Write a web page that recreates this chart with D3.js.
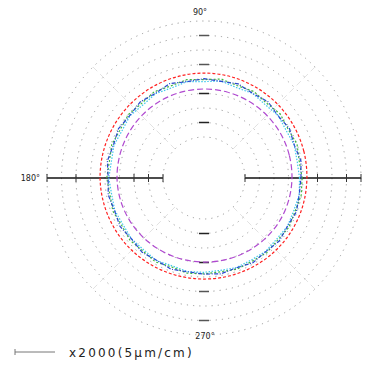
<!DOCTYPE html>
<html><head><meta charset="utf-8">
<script src="https://cdn.jsdelivr.net/npm/d3@7"></script>
<style>body{margin:0;background:#fff}svg{display:block}</style>
</head><body>
<svg id="c" width="366" height="371"></svg>
<script>
// ---- data ----
const gridLevels = [2,3,4,5,6,7,8,9,10];
const dashLevels = [3,5,7,9];
const leftTicks = [10,8,4,3,2];
const rightTicks = [2,7,9,10];
const angleLabels = [{t:"90°",a:90},{t:"180°",a:180},{t:"270°",a:270}];
const legendText = "x2000(5μm/cm)";
const anglesCoarse = [0,15,30,45,60,75,90,105,120,135,150,165,180,195,210,225,240,255,270,285,300,315,330,345];
const anglesFine = [0,10,20,30,40,50,60,70,80,90,100,110,120,130,140,150,160,170,180,190,200,210,220,230,240,250,260,270,280,290,300,310,320,330,340,350];
const redVals = [6.27,6.30,6.33,6.36,6.38,6.40,6.41,6.40,6.39,6.37,6.36,6.35,6.34,6.30,6.26,6.22,6.18,6.15,6.14,6.15,6.17,6.20,6.23,6.25];
const purpleVals = [5.24,5.26,5.28,5.29,5.30,5.31,5.31,5.30,5.28,5.25,5.22,5.19,5.17,5.13,5.08,5.03,4.99,4.97,4.97,5.00,5.05,5.11,5.17,5.21];
const blueVals = [5.86,5.96,5.80,5.98,5.84,6.04,5.90,6.08,5.94,6.02,5.92,6.10,5.90,6.02,5.86,5.98,5.82,5.94,5.78,5.88,5.74,5.86,5.70,5.84,5.72,5.86,5.74,5.80,5.88,5.76,5.92,5.80,5.94,5.82,5.96,5.84];
const greenVals = [5.94,5.84,6.00,5.88,6.04,5.90,6.06,5.94,6.10,5.96,6.06,5.92,6.04,5.88,5.98,5.84,5.94,5.80,5.88,5.76,5.86,5.72,5.84,5.74,5.86,5.70,5.84,5.78,5.74,5.86,5.80,5.90,5.82,5.94,5.86,5.98];
const cyanVals = [5.76,5.70,5.80,5.72,5.86,5.76,5.90,5.80,5.96,5.82,5.92,5.78,5.88,5.74,5.84,5.70,5.78,5.66,5.74,5.64,5.72,5.62,5.70,5.64,5.74,5.62,5.72,5.68,5.64,5.74,5.70,5.78,5.72,5.82,5.76,5.84];

const series = [
  {name:"purple", angles:anglesCoarse, vals:purpleVals, color:"#b04ad0", dash:"6,3", smooth:true},
  {name:"cyan", angles:anglesFine, vals:cyanVals, color:"#40c8ec", dash:"1.5,1.5", smooth:false},
  {name:"green", angles:anglesFine, vals:greenVals, color:"#40b840", dash:"2,2", smooth:false},
  {name:"blue", angles:anglesFine, vals:blueVals, color:"#2a48d0", dash:"4,1.5,1,1.5", smooth:false},
  {name:"red", angles:anglesCoarse, vals:redVals, color:"#ff2020", dash:"3,2", smooth:true}
];

// ---- layout ----
const svg = d3.select("#c");
const cx = 204, cy = 178;
const r = d3.scaleLinear().domain([0,10]).range([12,157]);
const g = svg.append("g").attr("transform",`translate(${cx},${cy})`);
const toXY = (a,v) => [r(v)*Math.cos(a*Math.PI/180), -r(v)*Math.sin(a*Math.PI/180)];

// faint diagonal lines
g.selectAll("line.diag").data([45,135,225,315]).join("line")
  .attr("x1",a=>toXY(a,2)[0]).attr("y1",a=>toXY(a,2)[1])
  .attr("x2",a=>toXY(a,10)[0]).attr("y2",a=>toXY(a,10)[1])
  .attr("stroke","#e2e2e2").attr("stroke-width",1).attr("stroke-dasharray","6,4");

// dotted grid circles
g.selectAll("circle.grid").data(gridLevels).join("circle")
  .attr("r",d=>r(d)).attr("fill","none").attr("stroke","#999")
  .attr("stroke-width",1).attr("stroke-dasharray","1.2,5");

// horizontal axis
[[-1,leftTicks],[1,rightTicks]].forEach(([s,ticks])=>{
  g.append("line").attr("x1",s*r(2)).attr("x2",s*r(10)).attr("y1",0).attr("y2",0)
    .attr("stroke","#111").attr("stroke-width",1.5);
  g.selectAll(null).data(ticks).join("line")
    .attr("x1",d=>s*r(d)).attr("x2",d=>s*r(d)).attr("y1",-4).attr("y2",4)
    .attr("stroke","#333").attr("stroke-width",1);
});

// vertical dashes
[-1,1].forEach(s=>{
  g.selectAll(null).data(dashLevels).join("line")
    .attr("x1",-5).attr("x2",5).attr("y1",d=>s*r(d)).attr("y2",d=>s*r(d))
    .attr("stroke",(d,i)=>i<2?"#222":"#555").attr("stroke-width",1.5);
});

// series
const smoothGen = d3.lineRadial().curve(d3.curveCardinalClosed.tension(0));
const roughGen = d3.lineRadial().curve(d3.curveLinearClosed);
series.forEach(s=>{
  const pts = s.angles.map((a,i)=>[ (90-a)*Math.PI/180, r(s.vals[i]) ]);
  g.append("path").attr("d",(s.smooth?smoothGen:roughGen)(pts)).attr("fill","none")
    .attr("stroke",s.color).attr("stroke-width",1.2).attr("stroke-dasharray",s.dash);
});

// angle labels
svg.append("text").attr("x",cx-4).attr("y",15).attr("text-anchor","middle")
  .attr("font-family","DejaVu Sans, sans-serif").attr("font-size",8).attr("fill","#222").text(angleLabels[0].t);
svg.append("text").attr("x",40).attr("y",cy+3).attr("text-anchor","end")
  .attr("font-family","DejaVu Sans, sans-serif").attr("font-size",8).attr("fill","#222").text(angleLabels[1].t);
svg.append("text").attr("x",cx+1).attr("y",cy+161).attr("text-anchor","middle")
  .attr("font-family","DejaVu Sans, sans-serif").attr("font-size",8).attr("fill","#222").text(angleLabels[2].t);

// legend
svg.append("line").attr("x1",15).attr("x2",55).attr("y1",352).attr("y2",352).attr("stroke","#777").attr("stroke-width",1);
svg.append("line").attr("x1",15).attr("x2",15).attr("y1",349).attr("y2",355).attr("stroke","#777").attr("stroke-width",1);
svg.append("text").attr("x",69).attr("y",357).attr("font-family","DejaVu Sans, sans-serif")
  .attr("font-size",12).attr("letter-spacing",2.2).attr("fill","#222").text(legendText);
</script>
</body></html>
